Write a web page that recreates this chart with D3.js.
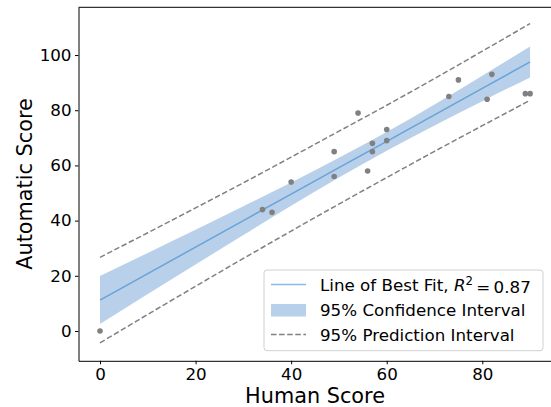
<!DOCTYPE html>
<html>
<head>
<meta charset="utf-8">
<script src="https://cdn.jsdelivr.net/npm/d3@7"></script>
<style>
  body { margin: 0; background: #fff; }
  svg { display: block; font-family: "DejaVu Sans", sans-serif; }
  .axis text { font-size: 16.7px; fill: #000; font-family: "DejaVu Sans", sans-serif; }
  .axis path, .axis line { stroke: #000; stroke-width: 1; }
</style>
</head>
<body>
<div id="chart"></div>
<script>
// scatter: human vs automatic score
var humanScore = [0, 34, 36, 40, 49, 49, 54, 56, 57, 57, 60, 60, 73, 75, 81, 82, 89, 90];
var autoScore  = [0, 44, 43, 54, 65, 56, 79, 58, 68, 65, 73, 69, 85, 91, 84, 93, 86, 86];

// fit + intervals at these x positions
var gridX   = [0, 10, 20, 30, 40, 50, 60, 70, 80, 90];
var fitY    = [11.2, 20.8, 30.4, 40.0, 49.6, 59.2, 68.7, 78.3, 87.9, 97.5];
var ciLow   = [2.5, 13.4, 24.1, 34.8, 45.4, 55.6, 65.3, 74.5, 83.3, 91.9];
var ciHigh  = [19.9, 28.3, 36.7, 45.2, 53.8, 62.8, 72.1, 82.1, 92.5, 103.1];
var piLow   = [-4.3, 6.0, 16.2, 26.3, 36.2, 46.0, 55.6, 65.1, 74.4, 83.6];
var piHigh  = [26.7, 35.6, 44.6, 53.7, 63.0, 72.4, 81.8, 91.5, 101.4, 111.4];

var xTicks = [0, 20, 40, 60, 80];
var yTicks = [0, 20, 40, 60, 80, 100];
var legendLabels = ['Line of Best Fit, ', '95% Confidence Interval', '95% Prediction Interval'];

var w = 551, h = 407;
var svg = d3.select('#chart').append('svg').attr('width', w).attr('height', h);

var xScale = d3.scaleLinear().domain([-4.5, 94.5]).range([78.5, 551.6]);
var yScale = d3.scaleLinear().domain([-10.8, 117.3]).range([360.8, 7.3]);

var band = gridX.map(function(x, i){
    return {x: x, fit: fitY[i], cl: ciLow[i], ch: ciHigh[i], pl: piLow[i], ph: piHigh[i]};
});

// confidence band
var area = d3.area()
    .x(function(d){ return xScale(d.x); })
    .y0(function(d){ return yScale(d.cl); })
    .y1(function(d){ return yScale(d.ch); })
    .curve(d3.curveMonotoneX);
svg.append('path').datum(band)
    .attr('d', area)
    .attr('fill', '#b9d0ea');

// prediction interval lines
['pl', 'ph'].forEach(function(k){
    var line = d3.line()
        .x(function(d){ return xScale(d.x); })
        .y(function(d){ return yScale(d[k]); })
        .curve(d3.curveMonotoneX);
    svg.append('path').datum(band)
        .attr('d', line)
        .attr('fill', 'none')
        .attr('stroke', '#808080')
        .attr('stroke-width', 1.5)
        .attr('stroke-dasharray', '5.5,2.6');
});

// best fit line
var fitLine = d3.line()
    .x(function(d){ return xScale(d.x); })
    .y(function(d){ return yScale(d.fit); });
svg.append('path').datum(band)
    .attr('d', fitLine)
    .attr('fill', 'none')
    .attr('stroke', '#3c8ad0')
    .attr('stroke-opacity', 0.65)
    .attr('stroke-width', 1.5);

// points
svg.selectAll('circle.pt').data(humanScore).enter()
    .append('circle')
    .attr('class', 'pt')
    .attr('cx', function(d){ return xScale(d); })
    .attr('cy', function(d, i){ return yScale(autoScore[i]); })
    .attr('r', 2.8)
    .attr('fill', '#808080');

// axes
var xAxis = d3.axisBottom(xScale).tickValues(xTicks).tickSize(3.5).tickPadding(3.5).tickSizeOuter(0);
svg.append('g').attr('class', 'axis')
    .attr('transform', 'translate(0,' + yScale.range()[0] + ')')
    .call(xAxis);
var yAxis = d3.axisLeft(yScale).tickValues(yTicks).tickSize(3.5).tickPadding(3.5).tickSizeOuter(0);
svg.append('g').attr('class', 'axis')
    .attr('transform', 'translate(' + xScale.range()[0] + ',0)')
    .call(yAxis);

// top and right spines
svg.append('line').attr('x1', xScale.range()[0]).attr('x2', xScale.range()[1])
    .attr('y1', yScale.range()[1]).attr('y2', yScale.range()[1]).attr('stroke', '#000');
svg.append('line').attr('x1', xScale.range()[1]).attr('x2', xScale.range()[1])
    .attr('y1', yScale.range()[0]).attr('y2', yScale.range()[1]).attr('stroke', '#000');

// axis labels
svg.append('text')
    .attr('x', 315).attr('y', 403)
    .attr('text-anchor', 'middle')
    .style('font-size', '20.8px')
    .text('Human Score');
svg.append('text')
    .attr('transform', 'translate(31.7,184) rotate(-90)')
    .attr('text-anchor', 'middle')
    .style('font-size', '20.8px')
    .text('Automatic Score');

// legend
var lg = svg.append('g');
lg.append('rect')
    .attr('x', 264).attr('y', 270).attr('width', 279).attr('height', 80.7)
    .attr('rx', 3)
    .attr('fill', '#fff').attr('fill-opacity', 0.8)
    .attr('stroke', '#d0d0d0');
var rowY = [284.5, 310, 334.5];
lg.append('line').attr('x1', 271).attr('x2', 306).attr('y1', rowY[0]).attr('y2', rowY[0])
    .attr('stroke', '#3c8ad0').attr('stroke-opacity', 0.6).attr('stroke-width', 1.5);
lg.append('rect').attr('x', 271).attr('y', rowY[1] - 6).attr('width', 35).attr('height', 12.5)
    .attr('fill', '#b9d0ea');
lg.append('line').attr('x1', 271).attr('x2', 306).attr('y1', rowY[2]).attr('y2', rowY[2])
    .attr('stroke', '#808080').attr('stroke-width', 1.5).attr('stroke-dasharray', '5.5,2.6');

legendLabels.forEach(function(t, i){
    var tx = lg.append('text')
        .attr('x', 320).attr('y', rowY[i]).attr('dy', '0.36em')
        .style('font-size', '16.7px');
    tx.append('tspan').text(t);
    if (i === 0) {
        tx.append('tspan').style('font-style', 'italic').text('R');
        tx.append('tspan').attr('dy', '-0.45em').style('font-size', '11.7px').text('2');
        tx.append('tspan').attr('dy', '0.45em').text('\u2009=\u20090.87');
    }
});
</script>
</body>
</html>
